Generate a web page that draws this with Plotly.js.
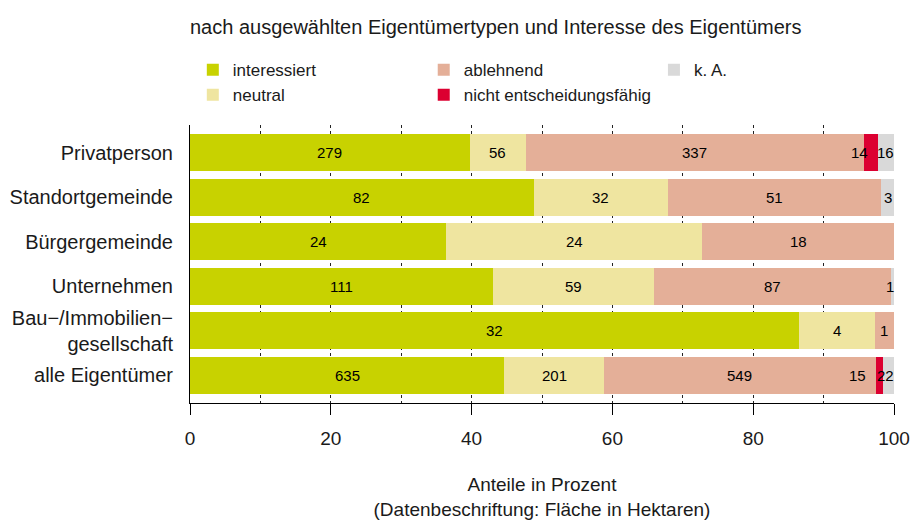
<!DOCTYPE html>
<html>
<head>
<meta charset="utf-8">
<script src="https://cdn.plot.ly/plotly-3.0.1.min.js"></script>
<style>html,body{margin:0;padding:0;background:#fff}</style>
</head>
<body>
<div id="chart" style="width:911px;height:520px"></div>
<script>
// ---- data (hectares) ----
const categories = ['Privatperson', 'Standortgemeinde', 'Bürgergemeinde', 'Unternehmen', 'Bau−/Immobilien−<br>gesellschaft', 'alle Eigentümer'];
const interessiert = [279, 82, 24, 111, 32, 635];
const neutral = [56, 32, 24, 59, 4, 201];
const ablehnend = [337, 51, 18, 87, 1, 549];
const nichtEntscheidungsfaehig = [14, 0, 0, 0, 0, 15];
const keineAngabe = [16, 3, 0, 1, 0, 22];
const seriesNames = ['interessiert', 'neutral', 'ablehnend', 'nicht entscheidungsfähig', 'k. A.'];
const xTickVals = [0, 20, 40, 60, 80, 100];

const series = [interessiert, neutral, ablehnend, nichtEntscheidungsfaehig, keineAngabe];
const colors = ['#C8D200', '#EFE5A0', '#E4AF98', '#DC0031', '#D9D9D9'];
const legendIds = ['legend', 'legend', 'legend2', 'legend2', 'legend3'];
const FONT = 'Liberation Sans, Arial, Helvetica, sans-serif';

const totals = categories.map((_, i) => series.reduce((s, arr) => s + arr[i], 0));
const pct = series.map(arr => arr.map((v, i) => v / totals[i] * 100));

const traces = series.map((arr, k) => ({
  type: 'bar',
  orientation: 'h',
  name: seriesNames[k],
  y: categories,
  x: pct[k],
  marker: {color: colors[k], line: {width: 0}},
  legend: legendIds[k],
  hoverinfo: 'skip'
}));

// label positions: centre of each stacked segment, small end segments nudged
const nudge = {'0-3': -11, '5-3': -22, '5-4': -3, '3-4': -3};
const annotations = [];
categories.forEach((c, i) => {
  let cum = 0;
  series.forEach((arr, k) => {
    const p = pct[k][i];
    if (arr[i] > 0) {
      annotations.push({
        x: cum + p / 2, y: c, xref: 'x', yref: 'y',
        text: String(arr[i]), showarrow: false,
        xshift: nudge[i + '-' + k] || 0,
        font: {family: FONT, size: 15, color: '#000'}
      });
    }
    cum += p;
  });
});

const legendBase = {
  orientation: 'v', traceorder: 'normal', yanchor: 'top', xanchor: 'left',
  y: 1.262, bgcolor: 'rgba(0,0,0,0)',
  font: {family: FONT, size: 17, color: '#1a1a1a'},
  itemclick: false, itemdoubleclick: false, tracegroupgap: 0
};

const layout = {
  width: 911, height: 520,
  margin: {l: 190, r: 17, t: 125, b: 117},
  paper_bgcolor: '#fff', plot_bgcolor: '#fff',
  barmode: 'stack', bargap: 0.167,
  font: {family: FONT, color: '#1a1a1a'},
  title: {
    text: 'nach ausgewählten Eigentümertypen und Interesse des Eigentümers',
    x: 190 / 911, xanchor: 'left', xref: 'container',
    y: 1 - 27 / 520, yanchor: 'middle',
    font: {family: FONT, size: 20, color: '#1a1a1a'}
  },
  legend: Object.assign({}, legendBase, {x: 0.004}),
  legend2: Object.assign({}, legendBase, {x: 0.332}),
  legend3: Object.assign({}, legendBase, {x: 0.659}),
  xaxis: {
    range: [0, 100], fixedrange: true,
    tickvals: xTickVals, ticktext: xTickVals.map(String),
    ticks: 'outside', ticklen: 11, tickcolor: '#000', tickwidth: 1,
    ticklabelstandoff: 7,
    tickfont: {family: FONT, size: 19, color: '#1a1a1a'},
    showline: true, linecolor: '#000', linewidth: 1,
    showgrid: true, gridcolor: '#222', griddash: 'dot', gridwidth: 1,
    minor: {dtick: 10, tick0: 0, showgrid: true, gridcolor: '#222', griddash: 'dot', gridwidth: 1, ticks: ''},
    zeroline: false,
    title: {
      text: 'Anteile in Prozent<br>(Datenbeschriftung: Fläche in Hektaren)',
      font: {family: FONT, size: 19, color: '#1a1a1a'},
      standoff: 31
    }
  },
  yaxis: {
    type: 'category', categoryarray: categories, categoryorder: 'array',
    range: [5.617, -0.617], fixedrange: true,
    showline: true, linecolor: '#000', linewidth: 1,
    ticks: '', showgrid: false, zeroline: false,
    ticklabelstandoff: 12,
    tickfont: {family: FONT, size: 20, color: '#1a1a1a'}
  },
  annotations: annotations,
  showlegend: true
};

Plotly.newPlot('chart', traces, layout, {displayModeBar: false, staticPlot: true});
</script>
</body>
</html>
